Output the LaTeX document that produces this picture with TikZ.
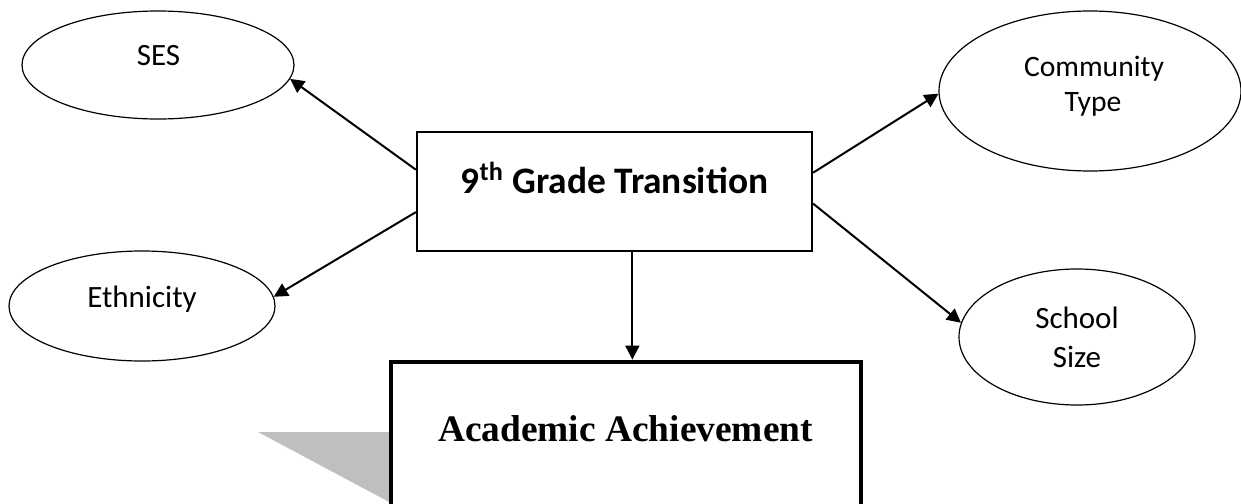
\documentclass[tikz,border=0pt]{standalone}
\usepackage{fontspec}
\setmainfont{Carlito}
\newfontfamily\timesf{Liberation Serif}
\usetikzlibrary{shapes.geometric,arrows.meta,calc}
\begin{document}
\begin{tikzpicture}[x=0.5pt,y=-0.5pt,
  oval/.style={ellipse,draw,line width=0.6pt,inner sep=0pt},
  lbl/.style={anchor=base,inner sep=0pt,font=\fontsize{15.5}{18}\selectfont},
  conn/.style={line width=1pt,-{Triangle[length=7pt,width=7pt]}}]
\useasboundingbox (0,0) rectangle (1241,503);
\clip (0,0) rectangle (1241,503);
% ellipses
\node[oval,minimum width=136pt,minimum height=54pt] (ses) at (158,65) {};
\node[oval,minimum width=133pt,minimum height=55pt] (eth) at (142,306) {};
\node[oval,minimum width=151pt,minimum height=80pt] (comm) at (1090,91) {};
\node[oval,minimum width=118pt,minimum height=68pt] (school) at (1077,337) {};
\node[lbl] (sesT) at (158.5,65) {SES};
\node[lbl] (ethT) at (142,307) {Ethnicity};
\node[lbl,font=\fontsize{14.8}{18}\selectfont] (commT1) at (1094,76) {Community};
\node[lbl,font=\fontsize{14.8}{18}\selectfont] (commT2) at (1093,111) {Type};
\node[lbl] (schoolT1) at (1077,328) {School};
\node[lbl] (schoolT2) at (1077,367) {Size};
% centre box
\node[draw,line width=1.1pt,inner sep=0pt,minimum width=197.5pt,minimum height=59.5pt] (trans) at (614.5,191.5) {};
\node[anchor=base,inner sep=0pt,font=\fontsize{18.7}{21}\selectfont\bfseries] (transT) at (614.5,193) {9\textsuperscript{th} Grade Transition};
% gray shadow
\fill[black!25] (258,432) -- (391,432) -- (391,503) -- cycle;
% academic box
\node[draw,fill=white,line width=2.4pt,inner sep=0pt,minimum width=235pt,minimum height=100pt] (acad) at (626,462) {};
\node[anchor=base,inner sep=0pt,font=\fontsize{18.7}{21}\selectfont\timesf\bfseries] (acadT) at (625.5,441) {Academic Achievement};
% connectors
\coordinate (tb) at ($(trans.south west)!0.545!(trans.south east)$);
\draw[conn] ($(trans.north west)!0.32!(trans.south west)$) -- (ses.-6);
\draw[conn] ($(trans.north west)!0.67!(trans.south west)$) -- (eth.4);
\draw[conn] ($(trans.north east)!0.345!(trans.south east)$) -- (comm.181.5);
\draw[conn] ($(trans.north east)!0.6!(trans.south east)$) -- (school.173);
\draw[conn] (tb) -- (tb |- acad.north);
\end{tikzpicture}
\end{document}
